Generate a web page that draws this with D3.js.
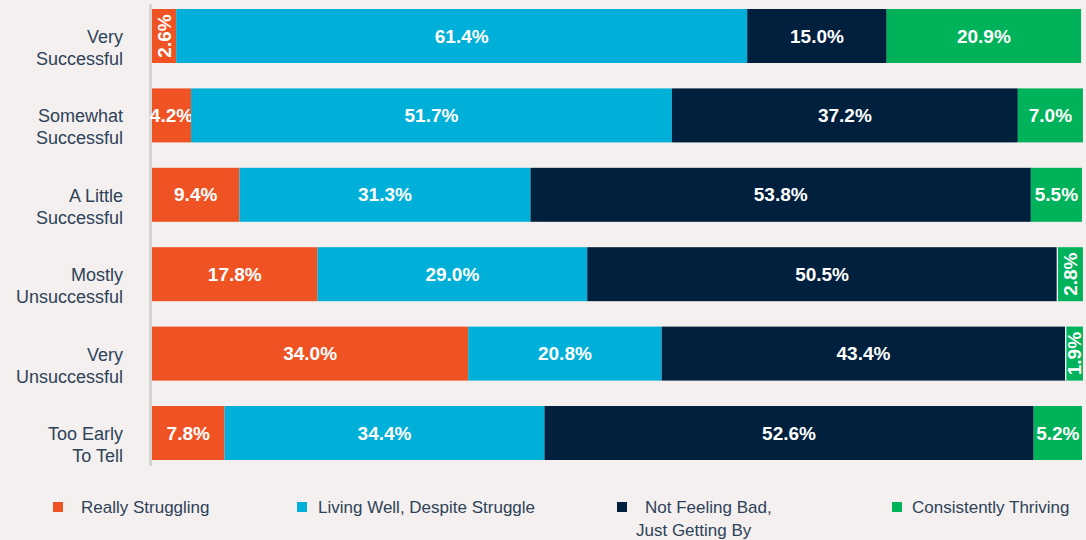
<!DOCTYPE html>
<html>
<head>
<meta charset="utf-8">
<script src="https://cdn.jsdelivr.net/npm/d3@7"></script>
<style>
  html, body { margin: 0; padding: 0; background: #f3f0ef; }
  svg { display: block; font-family: "Liberation Sans", Arial, Helvetica, sans-serif; }
</style>
</head>
<body>
<script>
// data
var categories = [
    ["Very", "Successful"],
    ["Somewhat", "Successful"],
    ["A Little", "Successful"],
    ["Mostly", "Unsuccessful"],
    ["Very", "Unsuccessful"],
    ["Too Early", "To Tell"]
];
var seriesNames = ["Really Struggling", "Living Well, Despite Struggle", "Not Feeling Bad, Just Getting By", "Consistently Thriving"];
var reallyStruggling = [2.6, 4.2, 9.4, 17.8, 34.0, 7.8];
var livingWell      = [61.4, 51.7, 31.3, 29.0, 20.8, 34.4];
var notFeelingBad   = [15.0, 37.2, 53.8, 50.5, 43.4, 52.6];
var thriving        = [20.9, 7.0, 5.5, 2.8, 1.9, 5.2];
var colors = ["#f05323", "#00b0d8", "#00203d", "#00b259"];

var width = 1086, height = 540;

var svg = d3.select("body").append("svg")
    .attr("width", width)
    .attr("height", height);

var series = [reallyStruggling, livingWell, notFeelingBad, thriving];
var rows = categories.map(function (c, i) {
    var x0 = 0;
    return series.map(function (s, k) {
        var seg = { key: k, row: i, v: s[i], x0: x0, x1: x0 + s[i] };
        x0 += s[i];
        return seg;
    });
});

// setup scales
var xScale = d3.scaleLinear().domain([0, 100]).range([152, 1082]);
var yScale = d3.scaleBand().domain(d3.range(categories.length))
    .range([9, 460]).paddingInner(0.32).paddingOuter(0);
var bandH = yScale.bandwidth();
function yTop(i) { return yScale(i); }

// axis line
svg.append("line")
    .attr("x1", 150.5).attr("x2", 150.5)
    .attr("y1", 4).attr("y2", 466)
    .attr("stroke", "#cfcfcf").attr("stroke-width", 2.5);

// bars
var segs = svg.append("g").selectAll("g.row").data(rows).enter().append("g").attr("class", "row")
    .selectAll("g.seg").data(function (d) { return d; }).enter().append("g").attr("class", "seg");

segs.append("rect")
    .attr("x", function (d) { return xScale(d.x0); })
    .attr("width", function (d) { return xScale(d.x1) - xScale(d.x0); })
    .attr("y", function (d) { return yTop(d.row); })
    .attr("height", bandH)
    .attr("fill", function (d) { return colors[d.key]; });

// white gap before small green segments
segs.filter(function (d) { return d.key === 3 && d.v < 3; })
    .append("line")
    .attr("x1", function (d) { return xScale(d.x0) + 0.5; })
    .attr("x2", function (d) { return xScale(d.x0) + 0.5; })
    .attr("y1", function (d) { return yTop(d.row); })
    .attr("y2", function (d) { return yTop(d.row) + bandH; })
    .attr("stroke", "#ffffff").attr("stroke-width", 1.2);

segs.append("text")
    .attr("transform", function (d) {
        var cx = (xScale(d.x0) + xScale(d.x1)) / 2 + (d.v < 3 ? 0.5 : 0);
        var cy = yTop(d.row) + bandH / 2;
        return "translate(" + cx + "," + cy + ")" + (d.v < 3 ? " rotate(-90)" : "");
    })
    .attr("text-anchor", "middle")
    .attr("dy", "0.35em")
    .attr("fill", "#ffffff")
    .attr("font-weight", "bold")
    .attr("font-size", "19px")
    .text(function (d) { return d.v.toFixed(1) + "%"; });

// category labels
var labels = svg.append("g").selectAll("text").data(categories).enter().append("text")
    .attr("text-anchor", "end")
    .attr("fill", "#2e4259")
    .attr("font-size", "18px");
labels.each(function (d, i) {
    var t = d3.select(this);
    var y = yTop(i) + bandH / 2 + 7;
    d.forEach(function (line, j) {
        t.append("tspan").attr("x", 123).attr("y", y + j * 22).text(line);
    });
});

// legend
var legendX = [53, 297, 617, 892];
var legendTextX = [81, 318, 645, 912];
var legend = svg.append("g").selectAll("g").data(seriesNames).enter().append("g");
legend.append("rect")
    .attr("x", function (d, i) { return legendX[i]; })
    .attr("y", 502)
    .attr("width", 10).attr("height", 10)
    .attr("fill", function (d, i) { return colors[i]; });
legend.append("text")
    .attr("fill", "#2e4259")
    .attr("font-size", "17px")
    .each(function (d, i) {
        var t = d3.select(this);
        if (i === 2) {
            t.append("tspan").attr("x", legendTextX[i]).attr("y", 513).text("Not Feeling Bad,");
            t.append("tspan").attr("x", 636).attr("y", 536).text("Just Getting By");
        } else {
            t.append("tspan").attr("x", legendTextX[i]).attr("y", 513).text(d);
        }
    });
</script>
</body>
</html>
